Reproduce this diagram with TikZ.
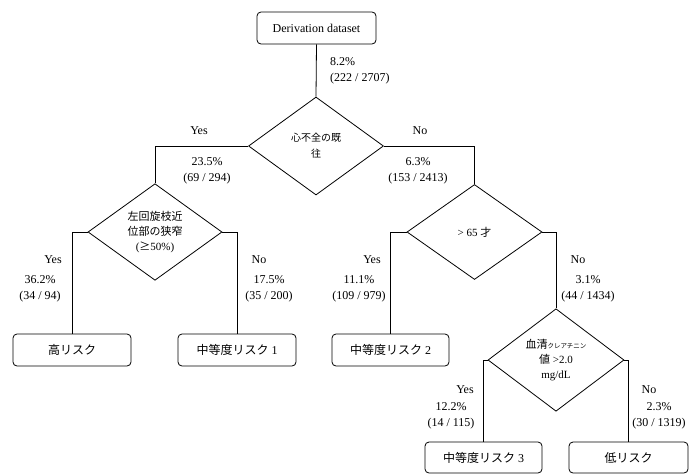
\documentclass[tikz,border=0pt]{standalone}
\usepackage{fontspec}
\setmainfont{Liberation Serif}
\newfontfamily\jp{Noto Sans CJK JP}
\usetikzlibrary{shapes.geometric}
\tikzset{
  x=1pt, y=-1pt,
  box/.style={draw, rounded corners=4pt, line width=0.8pt, inner sep=0pt, align=center, font=\fontsize{12}{14}\selectfont},
  dec/.style={draw, diamond, line width=0.8pt, inner sep=0pt, align=center, font=\fontsize{11}{15}\selectfont},
  lab/.style={inner sep=0pt, align=center, font=\fontsize{12}{15.5}\selectfont},
  conn/.style={line width=0.8pt}
}
\begin{document}
\begin{tikzpicture}
\useasboundingbox (0,0) rectangle (691,474);
% boxes
\node[box, minimum width=119pt, minimum height=32pt] (root) at (316.5,28) {Derivation dataset};
\node[box, minimum width=118pt, minimum height=32pt] (high) at (72,350) {\jp 高リスク};
\node[box, minimum width=118pt, minimum height=32pt] (mid1) at (237,350) {{\jp 中等度リスク} 1};
\node[box, minimum width=117pt, minimum height=32pt] (mid2) at (390.5,350) {{\jp 中等度リスク} 2};
\node[box, minimum width=117pt, minimum height=31pt] (mid3) at (483.5,457.5) {{\jp 中等度リスク} 3};
\node[box, minimum width=119pt, minimum height=31pt] (low) at (628.5,457.5) {\jp 低リスク};
% decisions
\node[dec, minimum width=135pt, minimum height=98pt, font=\fontsize{10}{16}\selectfont] (d1) at (316,146) {\jp 心不全の既\\\jp 往};
\node[dec, minimum width=134pt, minimum height=96pt] (d2) at (155,232) {\jp 左回旋枝近\\\jp 位部の狭窄\\({\jp ≥}50\%)};
\node[dec, minimum width=135pt, minimum height=95pt] (d3) at (474.5,232) {> 65 {\jp 才}};
\node[dec, minimum width=136pt, minimum height=94pt, font=\fontsize{11}{15}\selectfont] (d4) at (556,360) {{\jp 血清}{\jp\fontsize{6.5}{8}\selectfont クレアチニン}\\{\jp 値} >2.0\\mg/dL};
% connectors
\draw[conn] (root.south) -- (d1.north);
\draw[conn] (d1.west) -| (d2.north);
\draw[conn] (d1.east) -| (d3.north);
\draw[conn] (d2.west) -| (high.north);
\draw[conn] (d2.east) -| (mid1.north);
\draw[conn] (d3.west) -| (mid2.north);
\draw[conn] (d3.east) -| (d4.north);
\draw[conn] (d4.west) -| (mid3.north);
\draw[conn] (d4.east) -| (low.north);
% labels
\node[lab, anchor=west, align=left] (l0) at (330,71) {8.2\%\\(222 / 2707)};
\node[lab] (y1) at (199,131) {Yes};
\node[lab] (n1) at (420,131) {No};
\node[lab] (l1) at (207,171) {23.5\%\\(69 / 294)};
\node[lab] (l2) at (418,171) {6.3\%\\(153 / 2413)};
\node[lab] (y2) at (53,260) {Yes};
\node[lab] (n2) at (259,260) {No};
\node[lab] (l3) at (40,289) {36.2\%\\(34 / 94)};
\node[lab] (l4) at (269,289) {17.5\%\\(35 / 200)};
\node[lab] (y3) at (372,260) {Yes};
\node[lab] (n3) at (578,260) {No};
\node[lab] (l5) at (359,289) {11.1\%\\(109 / 979)};
\node[lab] (l6) at (588,289) {3.1\%\\(44 / 1434)};
\node[lab] (y4) at (465,390) {Yes};
\node[lab] (n4) at (649,390) {No};
\node[lab] (l7) at (451,416) {12.2\%\\(14 / 115)};
\node[lab] (l8) at (659,416) {2.3\%\\(30 / 1319)};
\end{tikzpicture}
\end{document}
